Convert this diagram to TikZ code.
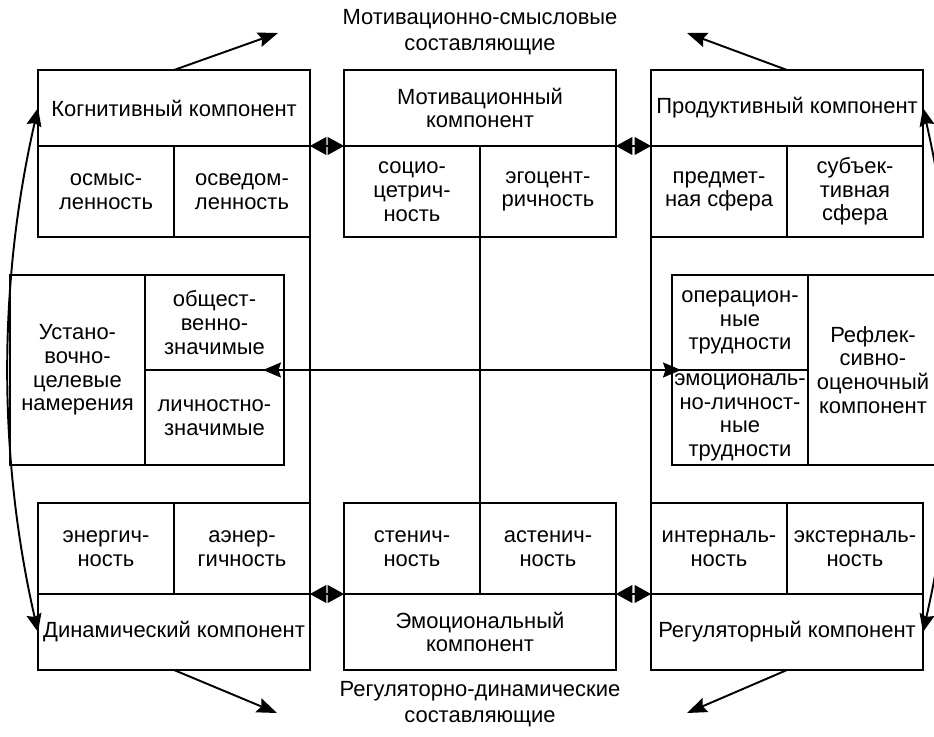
\documentclass[tikz,border=0pt]{standalone}
\usepackage{fontspec}
\setmainfont{Liberation Sans}
\usetikzlibrary{arrows.meta, positioning}
\tikzset{
    box/.style={
        rectangle, draw=black, line width=1.1pt, outer sep=0pt, inner sep=1pt,
        align=center, font=\fontsize{12.5pt}{13.5pt}\selectfont
    },
    head/.style={box, minimum width=5.44cm, minimum height=1.52cm},
    sub/.style={box, minimum width=2.72cm, minimum height=1.82cm},
    half/.style={box, minimum width=2.78cm, minimum height=1.9cm},
    tall/.style={box, minimum width=2.7cm, minimum height=3.8cm},
    title/.style={align=center, font=\fontsize{12.5pt}{14.5pt}\selectfont},
    arrow/.style={
        -{Stealth[length=0.4cm, width=0.3cm, inset=0.06cm]}, line width=1.1pt
    },
    biarrow/.style={
        {Stealth[length=0.36cm, width=0.3cm, inset=0.05cm]}-{Stealth[length=0.36cm, width=0.3cm, inset=0.05cm]},
        line width=1.1pt
    },
    link/.style={
        {Triangle[length=0.33cm, width=0.36cm]}-{Triangle[length=0.33cm, width=0.36cm]},
        line width=0.6pt
    },
    line/.style={line width=1.1pt}
}
\begin{document}
\begin{tikzpicture}[x=0.02cm, y=-0.02cm]
    \useasboundingbox (0,0) rectangle (934,737);

    % ── Top row ──
    \node[head] (kog) at (174,108) {Когнитивный компонент};
    \node[sub, below right=0pt and 0pt of kog.south west] (osm) {осмыс-\\ленность};
    \node[sub, right=0pt of osm] (osv) {осведом-\\ленность};

    \node[head] (mot) at (480,108) {Мотивационный\\компонент};
    \node[sub, below right=0pt and 0pt of mot.south west] (soc) {социо-\\цетрич-\\ность};
    \node[sub, right=0pt of soc] (ego) {эгоцент-\\ричность};

    \node[head] (prod) at (787,108) {Продуктивный компонент};
    \node[sub, below right=0pt and 0pt of prod.south west] (pred) {предмет-\\ная сфера};
    \node[sub, right=0pt of pred] (subj) {субъек-\\тивная\\сфера};

    % ── Middle row ──
    \node[tall] (ust) at (77.5,370) {Устано-\\вочно-\\целевые\\намерения};
    \node[half, below right=0pt and 0pt of ust.north east] (obsh) {общест-\\венно-\\значимые};
    \node[half, below=0pt of obsh] (lich) {личностно-\\значимые};

    \node[half, minimum width=2.72cm] (oper) at (740,322.5) {операцион-\\ные\\трудности};
    \node[half, minimum width=2.72cm, below=0pt of oper] (emtr) {эмоциональ-\\но-личност-\\ные\\трудности};
    \node[tall, minimum width=2.6cm, below right=0pt and 0pt of oper.north east] (refl) {Рефлек-\\сивно-\\оценочный\\компонент};

    % ── Bottom row ──
    \node[head] (din) at (174,632) {Динамический компонент};
    \node[sub, above right=0pt and 0pt of din.north west] (energ) {энергич-\\ность};
    \node[sub, right=0pt of energ] (aen) {аэнер-\\гичность};

    \node[head] (emo) at (480,632) {Эмоциональный\\компонент};
    \node[sub, above right=0pt and 0pt of emo.north west] (sten) {стенич-\\ность};
    \node[sub, right=0pt of sten] (asten) {астенич-\\ность};

    \node[head] (reg) at (787,632) {Регуляторный компонент};
    \node[sub, above right=0pt and 0pt of reg.north west] (int) {интерналь-\\ность};
    \node[sub, right=0pt of int] (ext) {экстерналь-\\ность};

    % ── Titles ──
    \node[title] (motsm) at (480,32) {Мотивационно-смысловые\\составляющие};
    \node[title] (regdin) at (480,704) {Регуляторно-динамические\\составляющие};

    % ── Links ──
    \draw[link] (kog.south east) -- (mot.south west);
    \draw[link] (mot.south east) -- (prod.south west);
    \draw[link] (din.north east) -- (emo.north west);
    \draw[link] (emo.north east) -- (reg.north west);

    \draw[line] (osv.south east) -- (aen.north east);
    \draw[line] (soc.south east) -- (sten.north east);
    \draw[line] (pred.south west) -- (int.north west);

    \draw[biarrow] ([xshift=-0.42cm]obsh.south east) -- ([xshift=0.18cm]oper.south west);

    % ── Outer arrows ──
    \coordinate (tl) at (278,33);
    \coordinate (tr) at (687,33);
    \coordinate (bl) at (277,713);
    \coordinate (br) at (687,713);
    \draw[arrow] (kog.north) -- (tl);
    \draw[arrow] (prod.north) -- (tr);
    \draw[arrow] (din.south) -- (bl);
    \draw[arrow] (reg.south) -- (br);

    \draw[biarrow] (kog.west) .. controls (-2,283) and (-2,457) .. (din.west);
    \draw[biarrow] (prod.east) .. controls (963,283) and (963,457) .. (reg.east);

\end{tikzpicture}
\end{document}
